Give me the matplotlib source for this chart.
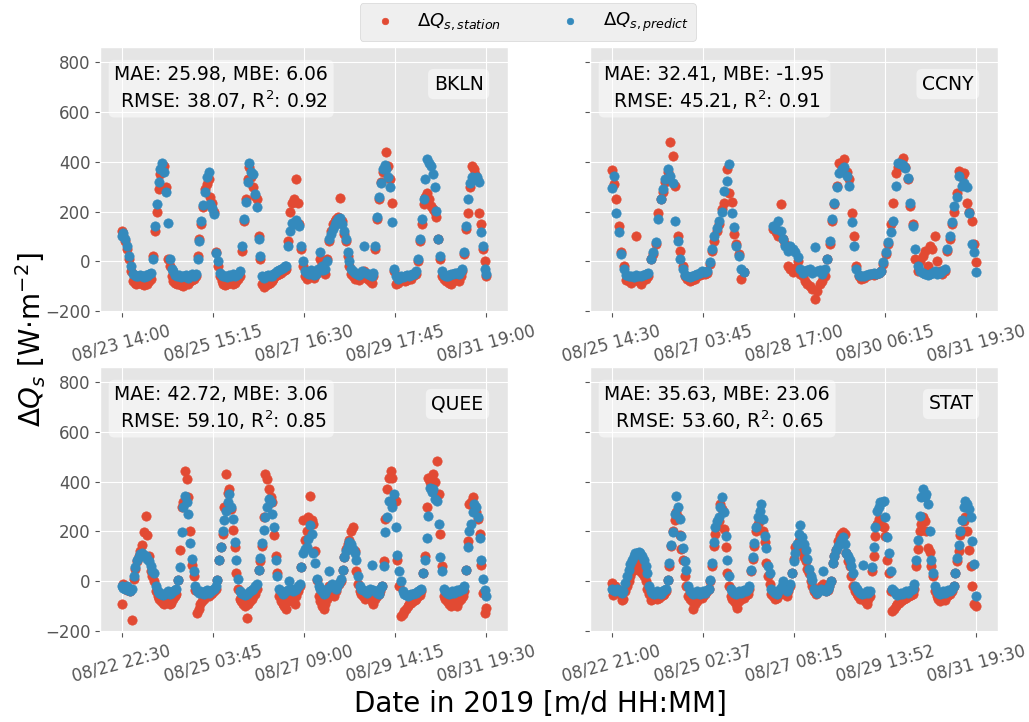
import matplotlib
matplotlib.use('Agg')
import matplotlib.pyplot as plt
import numpy as np

plt.style.use('ggplot')

# station names, metrics and time axis labels
stations = ['BKLN', 'CCNY', 'QUEE', 'STAT']
metrics = ['MAE: 25.98, MBE: 6.06\n RMSE: 38.07, R$^2$: 0.92',
           'MAE: 32.41, MBE: -1.95\n RMSE: 45.21, R$^2$: 0.91',
           'MAE: 42.72, MBE: 3.06\n RMSE: 59.10, R$^2$: 0.85',
           'MAE: 35.63, MBE: 23.06\n RMSE: 53.60, R$^2$: 0.65']
tick_labels = [['08/23 14:00', '08/25 15:15', '08/27 16:30', '08/29 17:45', '08/31 19:00'],
               ['08/25 14:30', '08/27 03:45', '08/28 17:00', '08/30 06:15', '08/31 19:30'],
               ['08/22 22:30', '08/25 03:45', '08/27 09:00', '08/29 14:15', '08/31 19:30'],
               ['08/22 21:00', '08/25 02:37', '08/27 08:15', '08/29 13:52', '08/31 19:30']]
# hours between first and last tick
spans = [197, 149, 213, 214.5]

# hourly values (W m-2)
bkln_station = [120, 100, 80, 50, 10, -40,
                -80, -85, -90, -85, -80, -90, -95, -85, -90, -80, -70,
                20, 120, 200, 290, 350, 380, 383, 300, 10, -20,
                -60, -80, -85, -90, -85, -95, -100, -90, -85, -90, -80, -75, -70, -60,
                20, 90, 150, 220, 290, 310, 330, 260, 236, 200, 36, -20,
                -60, -80, -90, -95, -90, -85, -80, -90, -85, -80, -70, -60,
                40, 160, 250, 330, 380, 340, 300, 263, 250, 100, 10,
                -90, -104, -95, -90, -85, -80, -70, -60, -55, -50, -45, -40, -35, -30,
                80, 200, 236, 250, 330, 236, 150, 50, -20,
                -60, -70, -50, -40, -60, -65, -50, -40, 10, -10, -40, -50, 10,
                80, 120, 150, 160, 170, 180, 256, 160, 110, 80, 20, -20,
                -50, -60, -70, -65, -75, -60, -55, -40, -65, -70, -80, -85, -60,
                50, 170, 250, 320, 360, 380, 439, 383, 330, 236, -40,
                -90, -85, -80, -75, -70, -80, -75, -65, -70, -60, -55, -50,
                0, 80, 150, 230, 260, 276, 250, 223, 210, 200, 180, 89, 10,
                -60, -70, -80, -75, -85, -90, -80, -70, -65, -80, -60, -40,
                30, 130, 196, 300, 383, 370, 350, 330, 196, 150, 50, 0, -60]
bkln_predict = [100, 115, 90, 60, 20, -20,
                -50, -55, -60, -58, -55, -60, -62, -55, -58, -50, -45,
                10, 140, 230, 320, 370, 395, 360, 280, 155, 10,
                -30, -40, -55, -60, -55, -62, -58, -60, -55, -65, -58, -52, -60, -50,
                10, 80, 160, 225, 280, 340, 360, 230, 215, 190, 35, 0,
                -45, -55, -60, -58, -62, -55, -60, -50, -58, -55, -50, -40,
                60, 170, 240, 320, 395, 360, 350, 270, 220, 90, 20,
                -60, -65, -60, -55, -58, -60, -50, -45, -40, -35, -30, -25, -20, -20,
                60, 120, 155, 150, 165, 150, 140, 60, 0,
                -40, -45, -50, -35, -45, -55, -50, -30, 36, -20, -35, -30, 0,
                89, 110, 130, 145, 156, 170, 176, 150, 120, 89, 36, 0,
                -30, -40, -45, -50, -55, -48, -40, 63, -45, -50, -55, -60, -45,
                60, 180, 260, 315, 370, 385, 370, 340, 300, 156, -30,
                -60, -70, -65, -60, -62, -58, -55, -60, -55, -50, -52, -40,
                10, 89, 170, 250, 330, 410, 395, 383, 350, 300, 203, 89, 23,
                -40, -55, -60, -58, -55, -50, -52, -48, -45, -50, -40, -30,
                36, 143, 250, 316, 340, 335, 330, 340, 320, 116, 60, -30, -50]

nan = np.nan
ccny_station = [367, 309, 250, 143, 36, -20,
                -75, -80, -85, -70, 103, -80, -90, -75, -70, -60,
                10, 30, 70, 196, 250, 280, 320, 360, 479, 423, 303, 103, 43, -20,
                -60, -70, -80, -75, -70, -60, -55, -50, -50, -45,
                -10, 40, 80, 120, 150, 210, 236, 370, 276, 240, 110, 70, 30, -70, -44,
                nan, nan, nan, nan, nan, nan, nan, nan, nan, nan, nan,
                130, 116, 103, 229, 89, 70, -17, -30, -44, -25, 0, -50,
                -60, -80, -90, -100, -110, -150, -120, -90, -80, -60,
                10, 70, 160, 230, 303, 396, 380, 410, 360, 330, 196, 103, -20,
                -60, -70, -65, -60, -55, -50, -55, -50, -45, -40,
                -10, 30, 70, 150, 236, 356, 380, 400, 416, 380, 330, 223, 149, 10, -40,
                0, 20, 40, -20, 60, 50, 103, 3, -40, -50, -40,
                40, 90, 150, 200, 276, 363, 340, 356, 236, 200, 163, 70, -4]
ccny_predict = [296, 343, 196, 116, 30, -30,
                -55, -60, -58, -62, -55, -60, -57, -55, -52, -45,
                10, 36, 76, 170, 250, 290, 330, 370, 343, 316, 163, 83, 10, -30,
                -55, -60, -62, -58, -55, -50, -45, -40, -42, -40,
                -4, 50, 100, 135, 163, 200, 283, 323, 390, 196, 136, 63, 20, -30, -44,
                nan, nan, nan, nan, nan, nan, nan, nan, nan, nan, nan,
                143, 130, 163, 120, 89, 60, 40, 63, 50, 36, 16, -30,
                -45, -40, -35, -30, -45, 56, -40, -35, -50, -30,
                10, 83, 170, 236, 300, 356, 370, 380, 343, 303, 156, 63, -30,
                -55, -60, -58, -55, -52, -50, -48, -50, -45, -40,
                -4, 36, 76, 116, 163, 303, 396, 390, 385, 376, 336, 236, 140, 50, -20,
                -40, -45, -50, -55, -50, -45, -40, -50, -45, -40, -30,
                50, 103, 156, 223, 260, 343, 303, 316, 300, 196, 69, 36, -44]

quee_station = [-92, -10, -20, -33, -30, -40, -156,
                10, 50, 80, 100, 120, 145, 198, 264, 185, 100, 40, 20, 0, -40,
                -60, -70, -80, -85, -90, -75, -80, -90, -85, -70, -60, -50,
                7, 125, 297, 320, 442, 409, 337, 200, 66, 20, -33,
                -125, -110, -90, -80, -70, -60, -55, -60, -50, -45, -40, -30,
                7, 86, 139, 191, 300, 429, 356, 370, 290, 205, 139, 33, -30,
                -70, -80, -90, -100, -145, -90, -80, -70, -60, -50, -30,
                46, 80, 140, 257, 429, 409, 370, 340, 317, 185, 100, 33,
                -60, -80, -90, -100, -110, -80, -60, -70, -80, -90, -60, -40, -20,
                59, 244, 165, 200, 260, 343, 244, 231, 120, 7,
                -60, -80, -100, -110, -90, -70, -20, -40, -50, -60, -40, -20, -10, 0,
                46, 99, 130, 150, 165, 200, 218, 120, 40, -10,
                -40, -50, -60, -70, -60, -50, -60, -80, -92, -70, -60, -50, -40, -20,
                80, 250, 370, 416, 442, 416, 330, 323, 86, -20, -139,
                -130, -120, -110, -100, -90, -85, -80, -75, -70, -60, -55, -40,
                33, 100, 297, 416, 400, 410, 429, 400, 482, 350, 191, 60,
                -60, -70, -80, -90, -100, -80, -70, -90, -100, -80, -70, -60, -40,
                46, 160, 310, 320, 337, 300, 280, 250, 190, 66, -46, -125, -106]
quee_predict = [-20, -25, -30, -20, -35, -40, -30,
                20, 59, 86, 99, 110, 112, 105, 100, 90, 80, 60, 40, 33, -20,
                -40, -45, -50, -55, -50, -45, -40, -50, -45, -40, -35, -30,
                7, 59, 198, 297, 343, 320, 270, 152, 90, 40, -20,
                -40, -45, -40, -45, -50, -40, -35, -45, -40, -35, -30, -20,
                7, 86, 139, 200, 244, 284, 320, 350, 297, 250, 158, 86, 10,
                -40, -45, -50, -55, -50, -45, -40, -35, -30, -20, -10,
                46, 92, 152, 205, 260, 297, 330, 317, 270, 218, 86, 20,
                -30, -40, -50, -45, -40, -35, 0, -30, -40, -35, -30, -20, -10,
                59, 112, 130, 139, 170, 224, 191, 112, 73, 10,
                -20, -30, -40, -50, -45, -30, 40, -20, -10, -20, -30, -20, -5, 10,
                46, 99, 120, 139, 158, 150, 130, 112, 86, 20,
                -20, -30, -35, -40, -45, -40, -30, 66, -35, -40, -45, -50, -30, -20,
                60, 198, 257, 323, 320, 300, 350, 218, 106, 40, 0,
                -40, -50, -55, -60, -55, -50, -50, -45, -45, -40, -35, -30,
                33, 86, 172, 264, 376, 360, 370, 330, 323, 231, 99, 40,
                -30, -40, -45, -50, -45, -40, -45, -40, -35, -40, -30, -30, -20,
                46, 139, 200, 231, 280, 310, 300, 257, 172, 86, 10, -33, -60]

stat_station = [-7, -53, -20, -30, -40, -50, -73, -70,
                -40, -20, 0, 20, 40, 46, 60, 90, 70, 40, 33, 20, 0, -30, -50,
                -73, -70, -65, -60, -70, -65, -60, -55, -50, -40,
                7, 60, 140, 200, 244, 280, 260, 185, 130, 86, 20, -20,
                -60, -70, -80, -112, -90, -80, -70, -60, -65, -60, -50, -40, -30,
                0, 60, 140, 191, 220, 240, 310, 290, 211, 139, 33, -20,
                -60, -70, -80, -90, -106, -80, -70, -60, -65, -55, -50, -30,
                40, 90, 140, 200, 230, 244, 250, 200, 158, 73, 20, -10,
                -50, -60, -70, -65, -55, -50, -40, -30, -50, -60, -40, -20,
                33, 90, 139, 130, 160, 150, 120, 99, 80, 50, 33, 0, -20,
                -40, -50, -40, -30, -20, -10, -30, -40, -35, -20, 0,
                73, 100, 125, 160, 180, 190, 198, 190, 112, 80, 60, 20, -20,
                -40, -50, -60, -70, -60, -50, -80, -92, -70, -60,
                40, 100, 180, 231, 250, 231, 220, 218, 180, 86, 33, -40,
                -119, -110, -100, -90, -85, -80, -75, -70, -65, -60, -60, -55, -50, -30,
                60, 130, 200, 231, 260, 240, 200, 132, 119, 60, 20,
                -40, -60, -70, -80, -70, -60, -75, -60, -55, -50, -40, -20,
                33, 80, 120, 185, 200, 240, 257, 200, 125, 60, -20, -92, -99]
stat_predict = [-30, -35, -40, -30, -35, -40, -45, -40,
                -7, 20, 46, 70, 86, 100, 112, 115, 119, 115, 100, 86, 60, 33, -20,
                -40, -45, -50, -45, -40, -45, -50, -40, -35, -30,
                7, 73, 145, 198, 270, 343, 297, 250, 180, 132, 80, 46,
                -20, -40, -45, -50, -45, -40, -45, -50, -45, -40, -45, -35, -30,
                7, 73, 158, 218, 240, 257, 300, 337, 280, 180, 86, 20,
                -30, -40, -45, -50, -45, -40, -45, -40, -35, -40, -30, -20,
                46, 99, 152, 218, 260, 284, 310, 250, 180, 132, 60, 33,
                -30, -40, -45, -50, -40, -30, -20, 0, -30, -40, -30, -10,
                33, 80, 112, 150, 190, 224, 178, 150, 125, 90, 50, 20, 7,
                -30, -40, -45, -40, -30, 40, -35, -40, -30, -20, 0,
                73, 100, 125, 140, 152, 165, 178, 150, 112, 100, 86, 60, 33,
                -20, -30, -40, -45, -50, 66, -45, -40, -45, -40,
                59, 139, 218, 284, 300, 317, 320, 323, 260, 178, 112, 40,
                -30, -40, -50, -55, -50, -45, -50, -45, -40, -45, -40, -35, -30, -10,
                86, 165, 264, 337, 370, 340, 350, 310, 200, 86, 33,
                -20, -40, -45, -50, -45, -40, -45, -40, -35, -40, -30, -20,
                33, 92, 145, 200, 244, 297, 323, 310, 290, 257, 160, 70, -60]

station_data = [bkln_station, ccny_station, quee_station, stat_station]
predict_data = [bkln_predict, ccny_predict, quee_predict, stat_predict]

red = '#E24A33'
blue = '#348ABD'

fig, axes = plt.subplots(2, 2, figsize=(10.29, 7.22), dpi=100, sharey=True)
plt.subplots_adjust(left=0.0972, right=0.9699, top=0.935, bottom=0.1247,
                    wspace=0.201, hspace=0.207)

for i, ax in enumerate(axes.flat):
    obs = np.array(station_data[i], dtype=float)
    pred = np.array(predict_data[i], dtype=float)
    ax.scatter(np.arange(len(obs)), obs, s=45, color=red, zorder=2,
               label=r'$\Delta Q_{s,station}$')
    ax.scatter(np.arange(len(pred)), pred, s=45, color=blue, zorder=3,
               label=r'$\Delta Q_{s,predict}$')

    span = spans[i]
    ax.set_xticks(np.linspace(0, span, 5))
    ax.set_xticklabels(tick_labels[i], rotation=15, ha='center', fontsize=12,
                       color='#555555')
    ax.set_xlim(-0.059 * span, 1.059 * span)
    ax.set_ylim(-203, 860)
    ax.set_yticks([-200, 0, 200, 400, 600, 800])
    ax.tick_params(axis='y', labelsize=12, labelcolor='#555555')

    ax.text(0.035, 0.93, metrics[i], transform=ax.transAxes, fontsize=13.5,
            va='top', ha='left', multialignment='center',
            bbox=dict(boxstyle='round', facecolor='white', alpha=0.5,
                      edgecolor='none'))
    ax.text(0.94, 0.86, stations[i], transform=ax.transAxes, fontsize=13.5,
            va='center', ha='right',
            bbox=dict(boxstyle='round', facecolor='white', alpha=0.5,
                      edgecolor='none'))

handles, labels = axes[0, 0].get_legend_handles_labels()
lgd = fig.legend(handles, labels, loc='upper center', ncol=2,
                 bbox_to_anchor=(0.513, 1.008), fontsize=13, markerscale=0.7,
                 columnspacing=2.8, frameon=True)
lgd.get_frame().set_facecolor('#EBEBEB')
lgd.get_frame().set_edgecolor('#CCCCCC')

fig.text(0.525, 0.025, 'Date in 2019 [m/d HH:MM]', ha='center', va='center',
         fontsize=20, color='black')
fig.text(0.03, 0.53, r'$\Delta Q_s$ [W$\cdot$m$^{-2}$]', ha='center',
         va='center', rotation=90, fontsize=20, color='black')

plt.savefig('out.png', dpi=100)
